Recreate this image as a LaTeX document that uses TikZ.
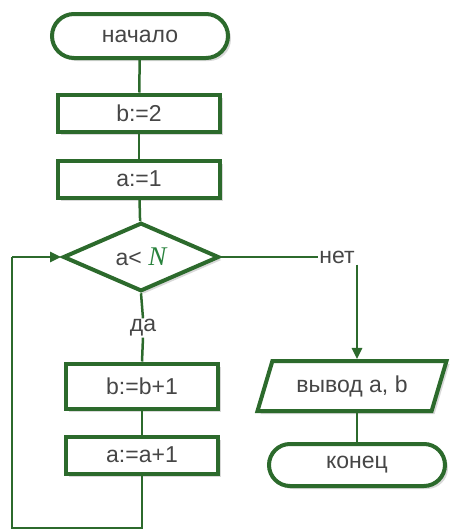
\documentclass[tikz,border=0pt]{standalone}
\usepackage{fontspec}
\setmainfont{Liberation Sans}
\newfontfamily\serifit{Liberation Serif}
\usetikzlibrary{shapes.geometric,shapes.misc,arrows.meta,shadows}
\definecolor{fgreen}{RGB}{44,106,44}
\definecolor{ftext}{RGB}{70,70,70}
\definecolor{nclr}{RGB}{40,130,60}
\tikzset{
  base/.style={draw=fgreen, line width=4pt, fill=white, text=ftext, font=\fontsize{23}{26}\selectfont, inner sep=0pt,
    drop shadow={shadow xshift=3pt, shadow yshift=-3pt, fill=black!25, opacity=0.6}},
  term/.style={base, rounded rectangle, minimum width=176pt, minimum height=44pt},
  proc/.style={base, rectangle, minimum width=162pt, minimum height=37pt},
  cond/.style={base, diamond, minimum width=156pt, minimum height=68pt},
  io/.style={base, trapezium, trapezium left angle=55, trapezium right angle=125, trapezium stretches body, minimum width=189pt, minimum height=50pt},
  lbl/.style={text=ftext, font=\fontsize{23}{26}\selectfont, inner sep=1pt},
  conn/.style={draw=fgreen, line width=2.5pt},
  arr/.style={conn, -{Triangle[length=11pt,width=10pt]}}
}
\begin{document}
\begin{tikzpicture}[x=1pt,y=-1pt]
\useasboundingbox (0,0) rectangle (452,531);
\node[term] (start) at (140,36) {начало};
\node[proc] (b2) at (139,113) {b:=2};
\node[proc] (a1) at (139,179) {a:=1};
\node[cond] (cond) at (141,257) {a< {\serifit\itshape\color{nclr}\fontsize{27}{28}\selectfont N}};
\node[lbl] (no) at (337,257) {нет};
\node[lbl] (yes) at (143,328) {да};
\node[proc, minimum width=152pt, minimum height=45pt] (bb) at (142,386) {b:=b+1};
\node[proc, minimum width=152pt, minimum height=37pt] (aa) at (142,455) {a:=a+1};
\node[io] (out) at (352,386) {вывод a, b};
\node[term, minimum height=42pt] (end) at (357,465) {конец};
\coordinate (l1) at (142,528);
\coordinate (l2) at (12,528);
\coordinate (l3) at (12,257);
\draw[conn] (start) -- (b2);
\draw[conn] (b2) -- (a1);
\draw[conn] (a1) -- (cond);
\draw[conn] (cond.east) -- (no.west);
\draw[arr] (no.south east -| end.north) -- (end.north |- out.north);
\draw[conn] (cond.south) -- (yes.north);
\draw[conn] (yes.south) -- (bb.north);
\draw[conn] (bb) -- (aa);
\draw[conn] (out.south -| end.north) -- (end.north);
\draw[conn] (aa.south) -- (l1) -- (l2) -- (l3);
\draw[arr] (l3) -- (cond.west);
\end{tikzpicture}
\end{document}
